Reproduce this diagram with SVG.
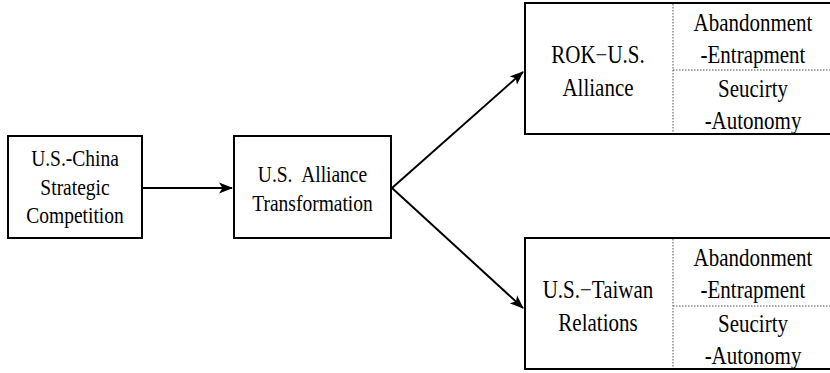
<svg xmlns="http://www.w3.org/2000/svg" width="830" height="373" viewBox="0 0 830 373">
<style>
.box{fill:#fff;stroke:#000;stroke-width:2}
.dot{stroke:#555;stroke-width:1;stroke-dasharray:1.5 1.5;fill:none}
.t{font-family:"Liberation Serif","Times New Roman",serif;fill:#000;text-anchor:middle}
.s{font-size:19.5px}
.b{font-size:21px}
.conn{stroke:#000;stroke-width:2;fill:none}
</style>
<defs>
<marker id="ah" markerUnits="userSpaceOnUse" markerWidth="14" markerHeight="12" refX="13" refY="6" orient="auto">
<path d="M0,0.5 L14,6 L0,11.5 L3.5,6 z" fill="#000"/>
</marker>
</defs>
<g id="connectors">
<line class="conn" x1="143" y1="188" x2="232" y2="188" marker-end="url(#ah)"/>
<line class="conn" x1="392" y1="188" x2="523" y2="72" marker-end="url(#ah)"/>
<line class="conn" x1="392" y1="188" x2="523" y2="308" marker-end="url(#ah)"/>
</g>
<g id="n1">
<rect class="box" x="8" y="136" width="134" height="102"/>
<text class="t s" transform="translate(75,166) scale(1,1.15)">U.S.-China</text>
<text class="t s" transform="translate(75,194.5) scale(1,1.15)">Strategic</text>
<text class="t s" transform="translate(75,223) scale(1,1.15)">Competition</text>
</g>
<g id="n2">
<rect class="box" x="234" y="136" width="157" height="102"/>
<text class="t s" transform="translate(312.5,182) scale(1,1.15)" xml:space="preserve">U.S.  Alliance</text>
<text class="t s" transform="translate(312.5,211) scale(1,1.15)">Transformation</text>
</g>
<g id="n3">
<rect class="box" x="525" y="3" width="310" height="131"/>
<line class="dot" x1="673" y1="4" x2="673" y2="133"/>
<line class="dot" x1="673" y1="70" x2="830" y2="70"/>
<text class="t b" transform="translate(598,63) scale(1,1.15)">ROK−U.S.</text>
<text class="t b" transform="translate(598,96) scale(1,1.15)">Alliance</text>
<text class="t b" transform="translate(753,31) scale(1,1.15)">Abandonment</text>
<text class="t b" transform="translate(753,63) scale(1,1.15)">-Entrapment</text>
<text class="t b" transform="translate(753,97) scale(1,1.15)">Seucirty</text>
<text class="t b" transform="translate(753,129) scale(1,1.15)">-Autonomy</text>
</g>
<g id="n4">
<rect class="box" x="525" y="238" width="310" height="131"/>
<line class="dot" x1="673" y1="239" x2="673" y2="368"/>
<line class="dot" x1="673" y1="306" x2="830" y2="306"/>
<text class="t b" transform="translate(598,298) scale(1,1.15)">U.S.−Taiwan</text>
<text class="t b" transform="translate(598,331) scale(1,1.15)">Relations</text>
<text class="t b" transform="translate(753,266) scale(1,1.15)">Abandonment</text>
<text class="t b" transform="translate(753,298) scale(1,1.15)">-Entrapment</text>
<text class="t b" transform="translate(753,332) scale(1,1.15)">Seucirty</text>
<text class="t b" transform="translate(753,364) scale(1,1.15)">-Autonomy</text>
</g>
</svg>
